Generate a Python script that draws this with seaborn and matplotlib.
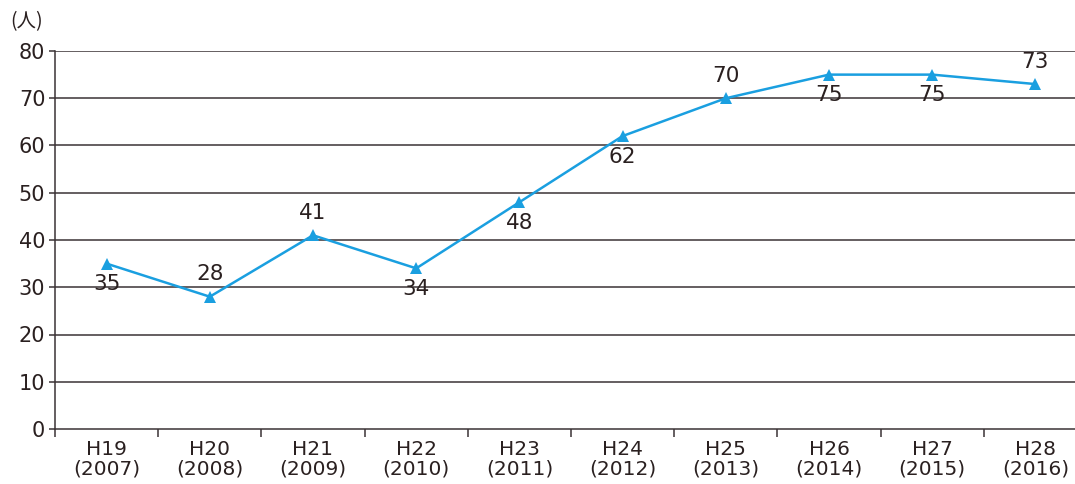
import matplotlib
matplotlib.use("Agg")
import matplotlib.pyplot as plt
import seaborn as sns
import pandas as pd
import numpy as np

# Data
years = ["H19\n(2007)", "H20\n(2008)", "H21\n(2009)", "H22\n(2010)", "H23\n(2011)",
         "H24\n(2012)", "H25\n(2013)", "H26\n(2014)", "H27\n(2015)", "H28\n(2016)"]
counts = [35, 28, 41, 34, 48, 62, 70, 75, 75, 73]
label_above = [False, True, True, False, False, False, True, False, False, True]

sns.set_theme(style="white")
plt.rcParams['font.family'] = ['DejaVu Sans', 'Noto Sans CJK JP']

df = pd.DataFrame({"idx": np.arange(len(years)), "count": counts})

fig = plt.figure(figsize=(10.75, 4.84), dpi=100)
W, H = 1075, 484
ax = fig.add_axes([55 / W, (H - 429) / H, 1032 / W, 378 / H])

line_color = "#1a9fe0"
grid_color = "#3b3335"
text_color = "#2a2020"

ax.set_ylim(0, 80)
ax.set_xlim(-0.5, len(years) - 0.5)
ax.set_yticks(range(0, 81, 10))
for y in range(10, 81, 10):
    ax.axhline(y, color=grid_color, lw=1.1, zorder=1)

sns.lineplot(data=df, x="idx", y="count", ax=ax, color=line_color, lw=1.8,
             marker="^", markersize=8, markeredgewidth=0, zorder=3)

for i, (v, up) in enumerate(zip(counts, label_above)):
    ax.annotate(str(v), (i, v), xytext=(0, 16 if up else -15), textcoords="offset points",
                ha="center", va="center", fontsize=15.5, color=text_color,
                zorder=4)

ax.set_xticks(range(len(years)))
ax.set_xticklabels(years, fontsize=14.5, color=text_color, linespacing=1.05)
ax.set_xticks(np.arange(-0.5, len(years), 1), minor=True)
ax.tick_params(axis="x", which="major", bottom=False, length=0, pad=8)
ax.tick_params(axis="x", which="minor", bottom=True, length=6, width=1.1,
               color=grid_color, direction="out")
ax.tick_params(axis="y", left=True, length=4, width=1.1, color=grid_color, labelsize=15,
               labelcolor=text_color, pad=3)
ax.set_yticklabels([str(t) for t in range(0, 81, 10)])

for s in ["top", "right"]:
    ax.spines[s].set_visible(False)
for s in ["left", "bottom"]:
    ax.spines[s].set_color(grid_color)
    ax.spines[s].set_linewidth(1.1)

ax.set_xlabel("")
ax.set_ylabel("")
fig.text(10 / W, 1 - 22 / H, "(人)", fontsize=14, color=text_color, va="center", ha="left",
         family=['Noto Sans CJK JP', 'DejaVu Sans'])

fig.savefig("out.png", dpi=100)
